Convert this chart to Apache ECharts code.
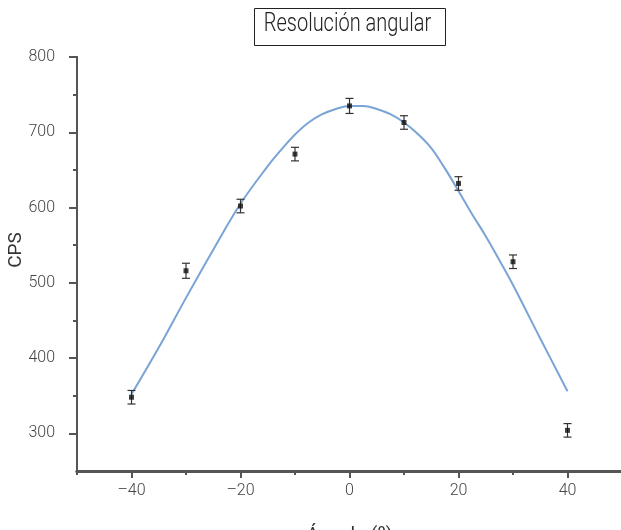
<!DOCTYPE html>
<html>
<head>
<meta charset="utf-8">
<script src="https://cdn.jsdelivr.net/npm/echarts@6/dist/echarts.min.js"></script>
<style>html,body{margin:0;padding:0;background:#fff}#c{width:621px;height:530px}</style>
</head>
<body>
<div id="c"></div>
<script>
// Measured points (angle in degrees, counts per second) with error bars
const angles = [-40, -30, -20, -10, 0, 10, 20, 30, 40];
const cps = [348, 516, 602, 671, 735, 713, 632, 528, 304];
const cpsErr = [9, 10, 9, 9, 10, 9, 9, 9, 9];
// Fitted curve
const fitAngles = [-40, -35, -30, -25, -20, -15, -12.5, -10, -7.5, -5, -2.5, 0, 2.5, 5, 7.5, 10, 12.5, 15, 17.5, 20, 22.5, 25, 27.5, 30, 35, 40];
const fitCps = [352, 414, 480, 544, 605, 655, 677, 697, 713, 724, 731, 735, 735, 731, 724, 713, 698, 679, 652, 622, 591, 562, 530, 497, 426, 356];
// Tick values
const xMajorTicks = [-40, -20, 0, 20, 40];
const xMinorTicks = [-50, -30, -10, 10, 30, 50];
const yMajorTicks = [300, 400, 500, 600, 700, 800];
const yMinorTicks = [350, 450, 550, 650, 750];

const titleText = 'Resolución angular';
const xName = 'Ángulo (º)';
const yName = 'CPS';

const chart = echarts.init(document.getElementById('c'), null, {renderer: 'canvas'});
const axisColor = '#555';
const labelColor = '#444';
const fontFam = 'Roboto, sans-serif';

const baseX = {
  type: 'value', min: -50, max: 50, interval: 10, position: 'bottom',
  splitLine: {show: false},
  axisLine: {show: true, onZero: false, lineStyle: {color: axisColor, width: 3}},
};
const baseY = {
  type: 'value', min: 250, max: 800, interval: 50, position: 'left',
  splitLine: {show: false},
  axisLine: {show: true, onZero: false, lineStyle: {color: axisColor, width: 2}},
};

const option = {
  animation: false,
  backgroundColor: '#fff',
  graphic: [
    {type: 'rect', left: 252, top: 6, shape: {width: 191, height: 37},
      style: {fill: 'none', stroke: '#222', lineWidth: 1}, z: 10},
    {type: 'text', x: 347.5, y: 25, scaleX: 0.8, z: 10,
      style: {text: titleText, fontFamily: fontFam, fontSize: 25, fontWeight: 300, fill: '#222',
        textAlign: 'center', textVerticalAlign: 'middle'}}
  ],
  grid: {left: 77, top: 57, width: 545, height: 414, containLabel: false, outerBoundsMode: 'none'},
  xAxis: [
    Object.assign({}, baseX, {
      name: xName, nameLocation: 'middle', nameGap: 55, nameMoveOverlap: false,
      nameTextStyle: {fontFamily: fontFam, fontSize: 19, color: '#333'},
      axisTick: {show: true, inside: false, length: 7, customValues: xMajorTicks, lineStyle: {color: axisColor, width: 2}},
      axisLabel: {show: true, margin: 12, customValues: xMajorTicks, fontFamily: fontFam, fontSize: 16, fontWeight: 300, color: labelColor,
        formatter: v => String(v).replace('-', '\u2013')}
    }),
    Object.assign({}, baseX, {
      axisTick: {show: true, inside: false, length: 4, customValues: xMinorTicks, lineStyle: {color: axisColor, width: 2}},
      axisLabel: {show: false}
    })
  ],
  yAxis: [
    Object.assign({}, baseY, {
      name: yName, nameLocation: 'middle', nameGap: 51, nameRotate: 90, nameMoveOverlap: false,
      nameTextStyle: {fontFamily: fontFam, fontSize: 19, color: '#333', padding: [0, 0, 0, 28]},
      axisTick: {show: true, inside: false, length: 8, customValues: yMajorTicks, lineStyle: {color: axisColor, width: 2}},
      axisLabel: {show: true, margin: 22, customValues: yMajorTicks, fontFamily: fontFam, fontSize: 16, fontWeight: 300, color: labelColor}
    }),
    Object.assign({}, baseY, {
      axisTick: {show: true, inside: false, length: 4, customValues: yMinorTicks, lineStyle: {color: axisColor, width: 2}},
      axisLabel: {show: false}
    })
  ],
  series: [
    {
      type: 'line', smooth: 0.4, showSymbol: false, symbol: 'none',
      data: fitAngles.map((a, i) => [a, fitCps[i]]),
      lineStyle: {color: '#7aa3d6', width: 2}, z: 2
    },
    {
      type: 'custom', z: 3,
      data: angles.map((a, i) => [a, cps[i], cps[i] - cpsErr[i], cps[i] + cpsErr[i]]),
      renderItem: function (params, api) {
        const x = api.value(0);
        const lo = api.coord([x, api.value(2)]);
        const hi = api.coord([x, api.value(3)]);
        const w = 4;
        const st = {stroke: '#333', lineWidth: 1.2};
        return {
          type: 'group',
          children: [
            {type: 'line', shape: {x1: lo[0], y1: lo[1], x2: hi[0], y2: hi[1]}, style: st},
            {type: 'line', shape: {x1: lo[0] - w, y1: lo[1], x2: lo[0] + w, y2: lo[1]}, style: st},
            {type: 'line', shape: {x1: hi[0] - w, y1: hi[1], x2: hi[0] + w, y2: hi[1]}, style: st}
          ]
        };
      }
    },
    {
      type: 'scatter', z: 4, symbol: 'rect', symbolSize: 5,
      data: angles.map((a, i) => [a, cps[i]]),
      itemStyle: {color: '#111'}
    }
  ]
};
chart.setOption(option);
</script>
</body>
</html>
